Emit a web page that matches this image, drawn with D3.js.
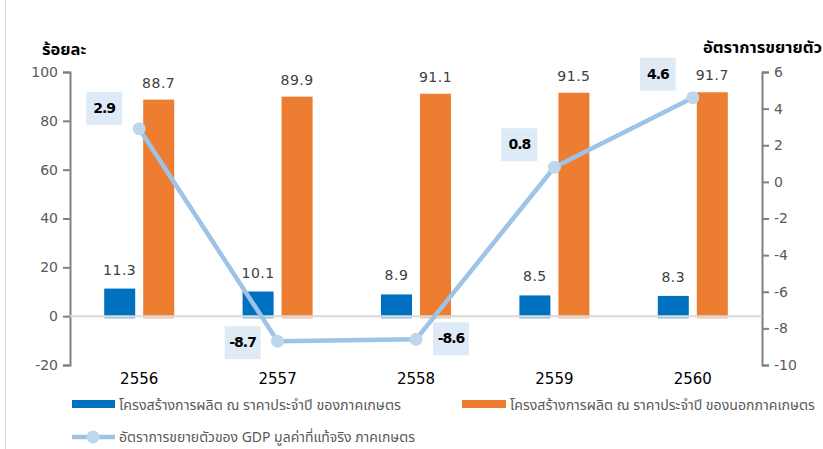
<!DOCTYPE html>
<html><head><meta charset="utf-8">
<script src="https://cdn.jsdelivr.net/npm/d3@7"></script>
<style>
html,body{margin:0;padding:0;background:#fff;}
svg{display:block;}
text{font-family:"DejaVu Sans",Tahoma,sans-serif;}
.thai{font-family:"Noto Sans Thai","Noto Sans","DejaVu Sans",sans-serif;}
</style></head>
<body>
<svg id="c" width="823" height="449"></svg>
<script>
const years = ["2556","2557","2558","2559","2560"];
const agriShare = [11.3, 10.1, 8.9, 8.5, 8.3];
const nonAgriShare = [88.7, 89.9, 91.1, 91.5, 91.7];
const gdpGrowth = [2.9, -8.7, -8.6, 0.8, 4.6];
const leftTicks = [-20, 0, 20, 40, 60, 80, 100];
const rightTicks = [-10, -8, -6, -4, -2, 0, 2, 4, 6];
const seriesNames = [
  "โครงสร้างการผลิต ณ ราคาประจำปี ของภาคเกษตร",
  "โครงสร้างการผลิต ณ ราคาประจำปี ของนอกภาคเกษตร",
  "อัตราการขยายตัวของ GDP มูลค่าที่แท้จริง ภาคเกษตร"
];
const leftTitle = "ร้อยละ";
const rightTitle = "อัตราการขยายตัว";
// label placement: -1 left/up-left, +1 right
const labelSide = [-1, -1, 1, -1, -1];
const labelDy = [-21, 1, -1, -23, -24];

const svg = d3.select("#c");
const L = 70, R = 762, T = 72, B = 365;

const x = d3.scaleBand().domain(years).range([L, R]);
const yL = d3.scaleLinear().domain([-20, 100]).range([B, T]);
const yR = d3.scaleLinear().domain([-10, 6]).range([B, T]);

// left frame line
svg.append("line").attr("x1",5.5).attr("x2",5.5).attr("y1",0).attr("y2",449)
  .attr("stroke","#d9d9d9").attr("stroke-width",1);

// axes
const fmt = d => String(d);
const axL = svg.append("g").attr("transform",`translate(${L},0)`)
  .call(d3.axisLeft(yL).tickValues(leftTicks).tickFormat(fmt).tickSize(7).tickSizeOuter(7));
const axR = svg.append("g").attr("transform",`translate(${R},0)`)
  .call(d3.axisRight(yR).tickValues(rightTicks).tickFormat(fmt).tickSize(7).tickSizeOuter(7));
[axL, axR].forEach(a => {
  a.select(".domain").attr("stroke","#808080").attr("stroke-width",2);
  a.selectAll(".tick line").attr("stroke","#808080").attr("stroke-width",2);
  a.selectAll(".tick text").attr("fill","#595959").attr("font-size",14)
    .attr("font-family","DejaVu Sans");
});
axL.selectAll(".tick text").attr("x",-12);
axR.selectAll(".tick text").attr("x",12);

const bw = 31, gap = 8;
const bx1 = d => x(d) + x.bandwidth()/2 - gap/2 - bw;
const bx2 = d => x(d) + x.bandwidth()/2 + gap/2;
// bars
svg.append("g").selectAll("rect").data(years).join("rect")
  .attr("x", bx1)
  .attr("y", (d,i) => yL(agriShare[i]))
  .attr("width", bw)
  .attr("height", (d,i) => yL(0) - yL(agriShare[i]))
  .attr("fill", "#0070C0");
svg.append("g").selectAll("rect").data(years).join("rect")
  .attr("x", bx2)
  .attr("y", (d,i) => yL(nonAgriShare[i]))
  .attr("width", bw)
  .attr("height", (d,i) => yL(0) - yL(nonAgriShare[i]))
  .attr("fill", "#ED7D31");
// faint bar feet below the zero line
svg.append("g").selectAll("rect").data(years).join("rect")
  .attr("x", bx1).attr("y", yL(0)).attr("width", bw).attr("height", 2.5).attr("fill", "#9DC3E6");
svg.append("g").selectAll("rect").data(years).join("rect")
  .attr("x", bx2).attr("y", yL(0)).attr("width", bw).attr("height", 2.5).attr("fill", "#F8CBAD");

// zero line
svg.append("line").attr("x1",L).attr("x2",R).attr("y1",yL(0)).attr("y2",yL(0))
  .attr("stroke","#d9d9d9").attr("stroke-width",2);

// bar labels
svg.append("g").selectAll("text").data(years).join("text")
  .attr("x", d => bx1(d) + bw/2)
  .attr("y", (d,i) => yL(agriShare[i]) - 14)
  .attr("text-anchor","middle").attr("font-size",14).attr("fill","#404040")
  .attr("letter-spacing", 0.5)
  .text((d,i) => agriShare[i].toFixed(1));
svg.append("g").selectAll("text").data(years).join("text")
  .attr("x", d => bx2(d) + bw/2)
  .attr("y", (d,i) => yL(nonAgriShare[i]) - 12)
  .attr("text-anchor","middle").attr("font-size",14).attr("fill","#404040")
  .attr("letter-spacing", 0.5)
  .text((d,i) => nonAgriShare[i].toFixed(1));

// category labels
svg.append("g").selectAll("text").data(years).join("text")
  .attr("x", d => x(d) + x.bandwidth()/2)
  .attr("y", 384)
  .attr("text-anchor","middle").attr("font-size",15).attr("fill","#000")
  .text(d => d);

// line
const cx = d => x(d) + x.bandwidth()/2;
const line = d3.line().x((d,i) => cx(years[i])).y(d => yR(d));
svg.append("path").datum(gdpGrowth).attr("d", line)
  .attr("fill","none").attr("stroke","#9DC3E6").attr("stroke-width",4.5)
  .attr("stroke-linejoin","round");
svg.append("g").selectAll("circle").data(gdpGrowth).join("circle")
  .attr("cx",(d,i)=>cx(years[i])).attr("cy",d=>yR(d)).attr("r",6.5)
  .attr("fill","#BDD7EE").attr("stroke","none");

// line labels with boxes
const lg = svg.append("g");
gdpGrowth.forEach((v,i) => {
  const px = cx(years[i]) + labelSide[i]*35;
  const py = yR(v) + labelDy[i];
  lg.append("rect").attr("x", px-18).attr("y", py-16).attr("width",36).attr("height",33)
    .attr("fill","#DEEBF7");
  lg.append("text").attr("x",px).attr("y",py+5).attr("text-anchor","middle")
    .attr("font-size",14).attr("font-weight","bold").attr("fill","#000")
    .attr("letter-spacing",-1)
    .text(v.toFixed(1));
});

// titles
svg.append("text").attr("class","thai").attr("x",42).attr("y",55)
  .attr("font-size",16.5).attr("font-weight","bold").attr("fill","#000").text(leftTitle);
svg.append("text").attr("class","thai").attr("x",822).attr("y",53).attr("text-anchor","end")
  .attr("font-size",16.5).attr("font-weight","bold").attr("fill","#000").text(rightTitle);

// legend
const leg = svg.append("g");
leg.append("rect").attr("x",72).attr("y",400).attr("width",43).attr("height",8).attr("fill","#0070C0");
leg.append("text").attr("class","thai").attr("x",119).attr("y",410).attr("font-size",13.5)
  .attr("fill","#595959").attr("textLength",282).attr("lengthAdjust","spacingAndGlyphs")
  .text(seriesNames[0]);
leg.append("rect").attr("x",462).attr("y",400).attr("width",44).attr("height",8).attr("fill","#ED7D31");
leg.append("text").attr("class","thai").attr("x",510).attr("y",410).attr("font-size",13.5)
  .attr("fill","#595959").attr("textLength",305).attr("lengthAdjust","spacingAndGlyphs")
  .text(seriesNames[1]);
leg.append("line").attr("x1",72).attr("x2",115).attr("y1",437).attr("y2",437)
  .attr("stroke","#9DC3E6").attr("stroke-width",4.5);
leg.append("circle").attr("cx",93).attr("cy",437).attr("r",6.5).attr("fill","#BDD7EE");
leg.append("text").attr("class","thai").attr("x",119).attr("y",442).attr("font-size",13.5)
  .attr("fill","#595959").attr("textLength",296).attr("lengthAdjust","spacingAndGlyphs")
  .text(seriesNames[2]);
</script>
</body></html>
